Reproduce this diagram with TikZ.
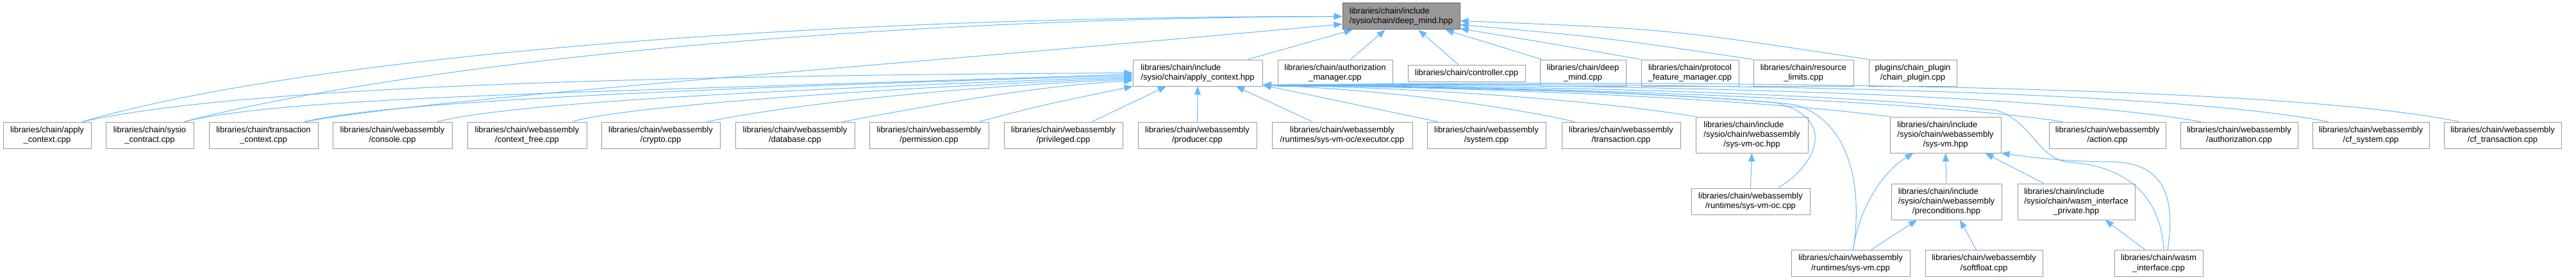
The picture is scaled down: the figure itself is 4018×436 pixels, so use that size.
\documentclass[tikz,border=0pt]{standalone}
\usepackage{fontspec}
\setmainfont{Liberation Sans}
\usepackage{tikz}
\usetikzlibrary{arrows.meta}
\definecolor{edgeBlue}{HTML}{63B8FF}
\definecolor{boxGray}{HTML}{999999}
\definecolor{rootDraw}{HTML}{666666}
\definecolor{rootFill}{HTML}{999999}

% first line "libraries/chain/include" kept flush left
\newlength\inclw
\newcommand{\inclabel}[1]{\settowidth{\inclw}{#1}\makebox[\inclw][l]{libraries/chain/include}\\#1}

\begin{document}
\begin{tikzpicture}[x=1pt,y=-1pt,
    file/.style={draw=boxGray, line width=1pt, fill=white, rectangle, align=center,
        inner xsep=0pt, inner ysep=0pt, minimum height=41pt,
        font=\fontsize{13}{15.3}\selectfont},
    tall/.style={file, minimum height=56pt},
    root/.style={file, draw=rootDraw, fill=rootFill},
    dep/.style={draw=edgeBlue, line width=1pt, -{Triangle[length=13pt,width=10pt]}}]

    \useasboundingbox (0,0) rectangle (4018,436);

    % header under study
    \node[root, minimum width=183pt] (dmh) at (2185.5,25.5) {\inclabel{/sysio/chain/deep\_mind.hpp}};

    % second row
    \node[file, minimum width=202pt] (ach) at (1868,113.5) {\inclabel{/sysio/chain/apply\_context.hpp}};
    \node[file, minimum width=179pt] (amgr) at (2082.5,113.5) {libraries/chain/authorization\\\_manager.cpp};
    \node[file, minimum width=183pt, minimum height=26pt] (ctrl) at (2287.5,114) {libraries/chain/controller.cpp};
    \node[file, minimum width=134pt] (dmc) at (2469,113.5) {libraries/chain/deep\\\_mind.cpp};
    \node[file, minimum width=152pt] (pfm) at (2636,113.5) {libraries/chain/protocol\\\_feature\_manager.cpp};
    \node[file, minimum width=156pt] (rl) at (2813,113.5) {libraries/chain/resource\\\_limits.cpp};
    \node[file, minimum width=137pt] (cp) at (2983.5,113.5) {plugins/chain\_plugin\\/chain\_plugin.cpp};

    % third row
    \node[file, minimum width=137pt] (acpp) at (73.5,210.5) {libraries/chain/apply\\\_context.cpp};
    \node[file, minimum width=137pt] (sc) at (233.5,210.5) {libraries/chain/sysio\\\_contract.cpp};
    \node[file, minimum width=170pt] (tc) at (411,210.5) {libraries/chain/transaction\\\_context.cpp};
    \node[file, minimum width=186pt] (con) at (612,210.5) {libraries/chain/webassembly\\/console.cpp};
    \node[file, minimum width=186pt] (cfree) at (822,210.5) {libraries/chain/webassembly\\/context\_free.cpp};
    \node[file, minimum width=185pt] (cry) at (1030.5,210.5) {libraries/chain/webassembly\\/crypto.cpp};
    \node[file, minimum width=186pt] (db) at (1240,210.5) {libraries/chain/webassembly\\/database.cpp};
    \node[file, minimum width=186pt] (perm) at (1449,210.5) {libraries/chain/webassembly\\/permission.cpp};
    \node[file, minimum width=185pt] (priv) at (1658.5,210.5) {libraries/chain/webassembly\\/privileged.cpp};
    \node[file, minimum width=185pt] (prod) at (1867.5,210.5) {libraries/chain/webassembly\\/producer.cpp};
    \node[file, minimum width=219pt] (exe) at (2093.5,210.5) {libraries/chain/webassembly\\/runtimes/sys-vm-oc/executor.cpp};
    \node[file, minimum width=185pt] (sys) at (2318.5,210.5) {libraries/chain/webassembly\\/system.cpp};
    \node[file, minimum width=185pt] (trx) at (2528.5,210.5) {libraries/chain/webassembly\\/transaction.cpp};
    \node[tall, minimum width=175pt] (voch) at (2732.5,210) {\inclabel{/sysio/chain/webassembly}\\/sys-vm-oc.hpp};
    \node[tall, minimum width=173pt] (vmh) at (3034.5,210) {\inclabel{/sysio/chain/webassembly}\\/sys-vm.hpp};
    \node[file, minimum width=182pt] (act) at (3287,210.5) {libraries/chain/webassembly\\/action.cpp};
    \node[file, minimum width=183pt] (auth) at (3492.5,210.5) {libraries/chain/webassembly\\/authorization.cpp};
    \node[file, minimum width=182pt] (cfs) at (3698,210.5) {libraries/chain/webassembly\\/cf\_system.cpp};
    \node[file, minimum width=183pt] (cft) at (3903.5,210.5) {libraries/chain/webassembly\\/cf\_transaction.cpp};

    % fourth row
    \node[file, minimum width=185pt] (vocc) at (2730.5,313.5) {libraries/chain/webassembly\\/runtimes/sys-vm-oc.cpp};
    \node[tall, minimum width=172pt] (pre) at (3036,314) {\inclabel{/sysio/chain/webassembly}\\/preconditions.hpp};
    \node[tall, minimum width=183pt] (wip) at (3238.5,314) {\inclabel{/sysio/chain/wasm\_interface}\\\_private.hpp};

    % bottom row
    \node[file, minimum width=185pt] (vmc) at (2886.5,410) {libraries/chain/webassembly\\/runtimes/sys-vm.cpp};
    \node[file, minimum width=183pt] (sf) at (3094.5,410) {libraries/chain/webassembly\\/softfloat.cpp};
    \node[file, minimum width=138pt] (wi) at (3367,410) {libraries/chain/wasm\\\_interface.cpp};

    % includes of deep_mind.hpp
    \draw[dep] ([xshift=55pt]acpp.north) .. controls (450,95) and (1200,26) .. (dmh.west);
    \draw[dep] ([xshift=54pt]sc.north) .. controls (550,120) and (1200,30) .. (dmh.west);
    \draw[dep] ([xshift=64pt]tc.north) .. controls (700,150) and (1300,110) .. ([yshift=-12pt]dmh.west);
    \draw[dep] ([xshift=78pt]ach.north) -- ([xshift=-76pt]dmh.south);
    \draw[dep] ([xshift=24pt]amgr.north) -- ([xshift=-25pt]dmh.south);
    \draw[dep] ([xshift=-13pt]ctrl.north) -- ([xshift=27pt]dmh.south);
    \draw[dep] ([xshift=-64pt]dmc.north) -- ([xshift=69pt]dmh.south);
    \draw[dep] (pfm.north west) .. controls (2420,68) .. ([yshift=-19pt]dmh.east);
    \draw[dep] (rl.north west) .. controls (2500,58) .. ([yshift=-13pt]dmh.east);
    \draw[dep] (cp.north west) .. controls (2600,45) .. ([yshift=-7pt]dmh.east);

    % includes of apply_context.hpp, from the left
    \draw[dep] ([xshift=55pt]acpp.north) .. controls (350,140) and (900,118) .. (ach.west);
    \draw[dep] ([xshift=54pt]sc.north) .. controls (450,150) and (900,145) .. ([yshift=-2pt]ach.west);
    \draw[dep] ([xshift=64pt]tc.north) .. controls (600,160) and (1000,140) .. ([yshift=-4pt]ach.west);
    \draw[dep] ([xshift=70pt]con.north) .. controls (800,160) and (1200,140) .. ([yshift=-6pt]ach.west);
    \draw[dep] ([xshift=71pt]cfree.north) .. controls (950,170) and (1300,140) .. ([yshift=-8pt]ach.west);
    \draw[dep] ([xshift=72pt]cry.north) .. controls (1250,160) and (1500,135) .. ([yshift=-10pt]ach.west);
    \draw[dep] ([xshift=74pt]db.north) .. controls (1450,165) and (1600,135) .. ([yshift=-12pt]ach.west);
    \draw[dep] ([xshift=78pt]perm.north) .. controls (1620,165) .. (ach.south west);
    \draw[dep] ([xshift=45pt]priv.north) -- ([xshift=-49pt]ach.south);
    \draw[dep] (prod.north) -- (ach.south);
    \draw[dep] ([xshift=-47pt]exe.north) -- ([xshift=60pt]ach.south);

    % includes of apply_context.hpp, from the right
    \draw[dep] ([xshift=-76pt]sys.north) -- ([yshift=2pt]ach.south east);
    \draw[dep] ([xshift=-72pt]trx.north) .. controls (2300,155) and (2100,137) .. ([yshift=2pt]ach.south east);
    \draw[dep] (voch.north west) .. controls (2450,150) and (2150,135) .. ([yshift=2pt]ach.south east);
    \draw[dep] ([xshift=43pt]vocc.north) .. controls (2830,260) and (2870,185) .. (2770,160)
        .. controls (2550,140) and (2200,135) .. ([yshift=2pt]ach.south east);
    \draw[dep] ([xshift=4pt]vmc.north) .. controls (2905,300) and (2890,190) .. (2800,163)
        .. controls (2600,142) and (2200,135) .. ([yshift=2pt]ach.south east);
    \draw[dep] (vmh.north west) .. controls (2700,150) and (2250,135) .. ([yshift=2pt]ach.south east);
    \draw[dep] ([xshift=-69pt]act.north) .. controls (2950,150) and (2300,133) .. ([yshift=2pt]ach.south east);
    \draw[dep] ([xshift=-60pt]auth.north) .. controls (3150,140) and (2400,130) .. ([yshift=2pt]ach.south east);
    \draw[dep] ([xshift=-67pt]cfs.north) .. controls (3350,135) and (2500,128) .. ([yshift=2pt]ach.south east);
    \draw[dep] ([xshift=-68pt]cft.north) .. controls (3550,130) and (2600,125) .. ([yshift=2pt]ach.south east);
    \draw[dep] ([xshift=8pt]wi.north) .. controls (3370,300) and (3310,258) .. (3230,253)
        .. controls (3180,250) and (3170,190) .. (3115,172)
        .. controls (2800,140) and (2300,133) .. ([yshift=2pt]ach.south east);

    % lower headers
    \draw[dep] (vocc.north) -- (voch.south);
    \draw[dep] (pre.north) -- (vmh.south);
    \draw[dep] ([xshift=-51pt]wip.north) -- ([xshift=62pt]vmh.south);
    \draw[dep] ([xshift=4pt]vmc.north) .. controls (2900,320) and (2940,265) .. ([xshift=-50pt]vmh.south);
    \draw[dep] ([xshift=14pt]wi.north) .. controls (3395,300) and (3370,255) .. (3298,252)
        .. controls (3220,252) and (3170,245) .. (vmh.south east);
    \draw[dep] ([xshift=32pt]vmc.north) -- ([xshift=-46pt]pre.south);
    \draw[dep] ([xshift=-12pt]sf.north) -- ([xshift=21pt]pre.south);
    \draw[dep] ([xshift=-21pt]wi.north) -- ([xshift=45pt]wip.south);

\end{tikzpicture}
\end{document}
